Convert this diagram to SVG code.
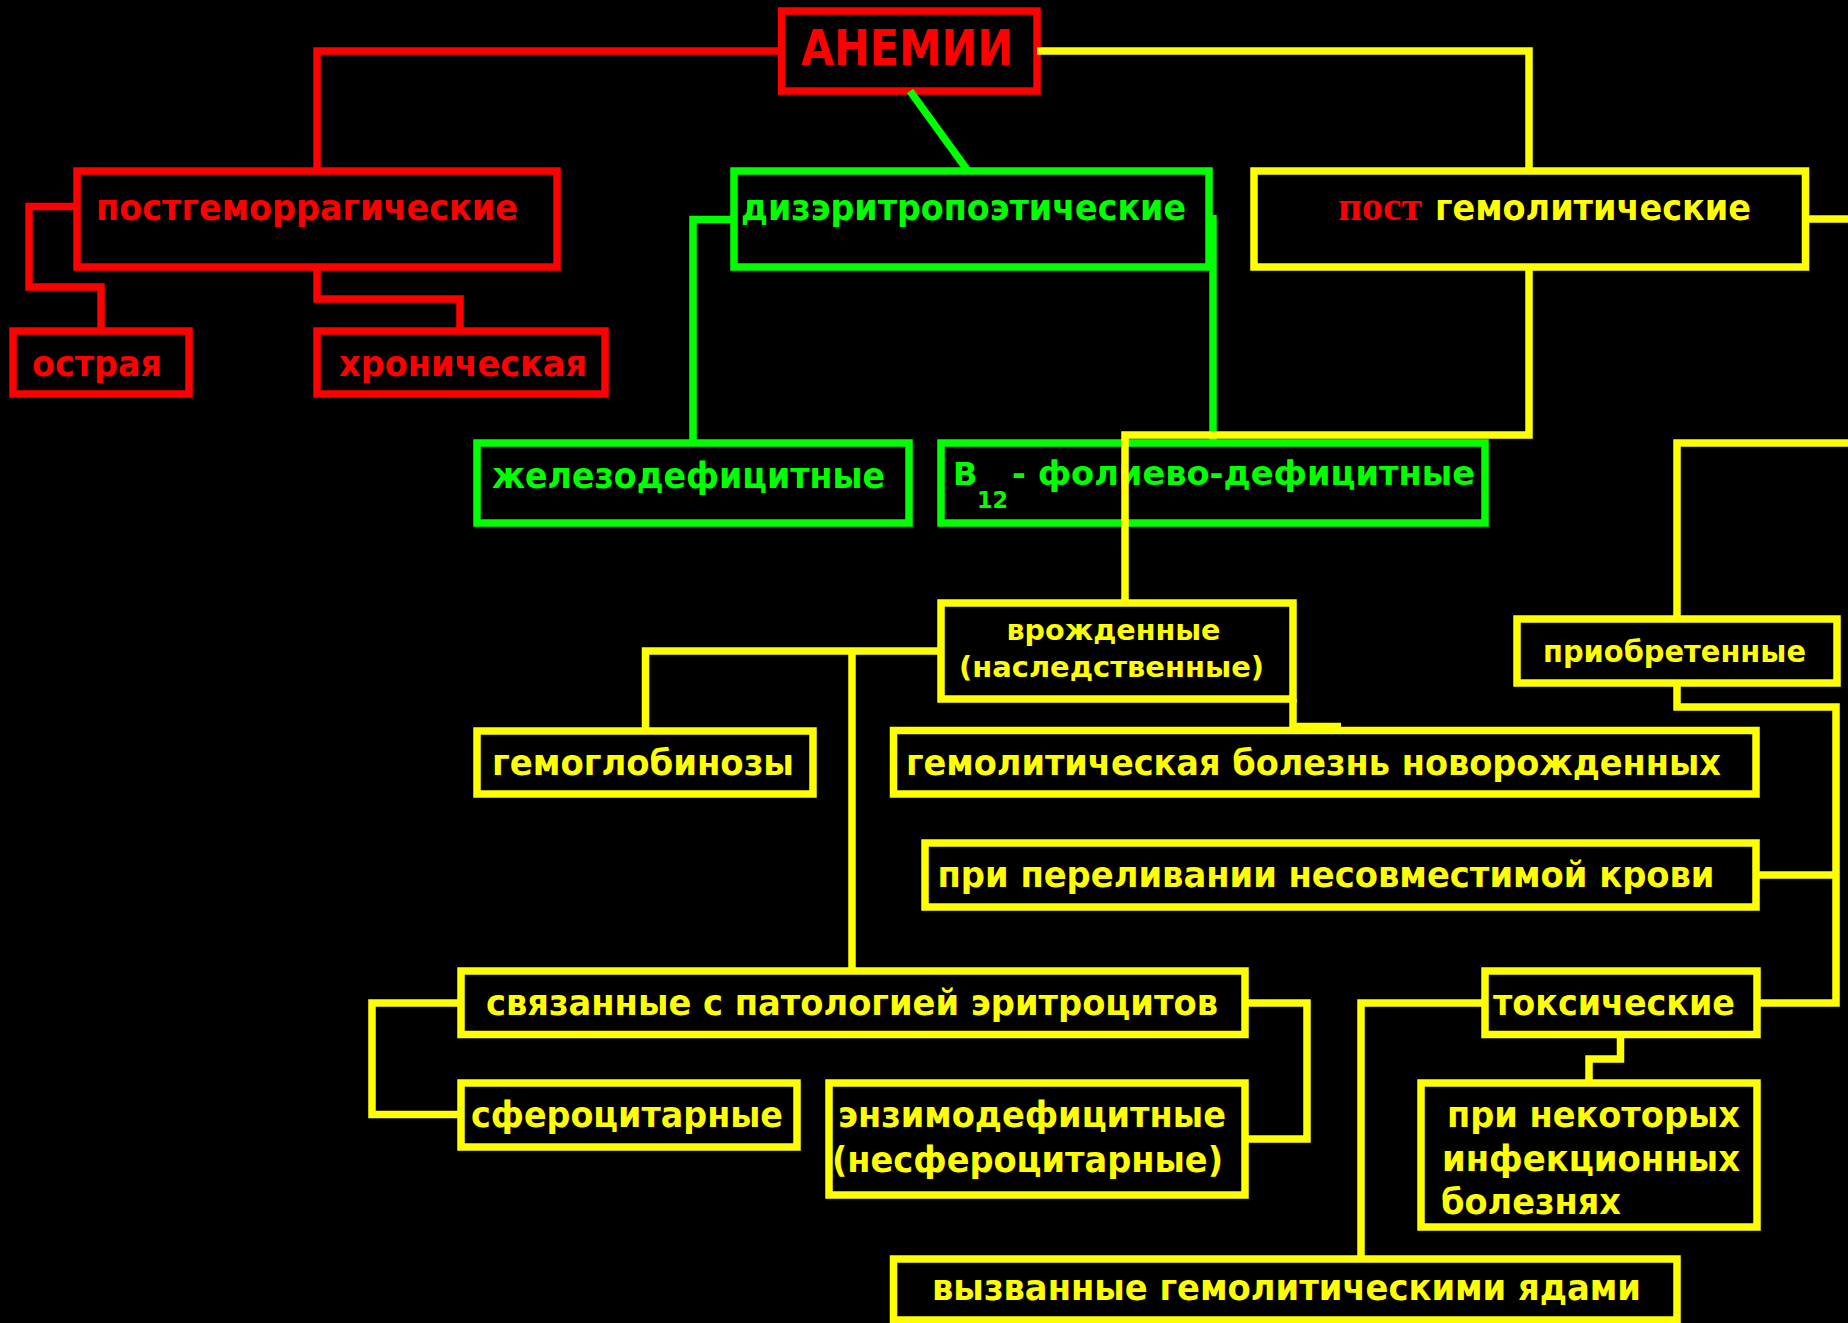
<svg xmlns="http://www.w3.org/2000/svg" width="1848" height="1323" viewBox="0 0 1848 1323">
<style>
.box{fill:none;stroke-width:7.5}
.r{stroke:#FF0000}
.g{stroke:#00FF00}
.y{stroke:#FFFF00}
.c{fill:none;stroke-width:7.5;stroke-linejoin:miter;stroke-linecap:butt}
.t{font-family:"DejaVu Sans","Liberation Sans",sans-serif;font-weight:bold}
.tr{fill:#FF0000}
.tg{fill:#00FF00}
.ty{fill:#FFFF00}
</style>
<rect width="1848" height="1323" fill="#000"/>

<g id="anemii">
<rect class="box r" x="781.5" y="11" width="255.5" height="80"/>
<text class="t tr" x="801" y="65" font-size="49" textLength="212" lengthAdjust="spacingAndGlyphs">АНЕМИИ</text>
</g>
<g id="posthemorrhagic">
<rect class="box r" x="77" y="171" width="480" height="96"/>
<text class="t tr" x="96" y="220" font-size="36" textLength="422" lengthAdjust="spacingAndGlyphs">постгеморрагические</text>
</g>
<g id="acute">
<rect class="box r" x="13" y="331" width="176" height="63"/>
<text class="t tr" x="32" y="376" font-size="36" textLength="130" lengthAdjust="spacingAndGlyphs">острая</text>
</g>
<g id="chronic">
<rect class="box r" x="317" y="331" width="288" height="63"/>
<text class="t tr" x="339" y="376" font-size="36" textLength="248" lengthAdjust="spacingAndGlyphs">хроническая</text>
</g>
<g id="dyserythropoietic">
<rect class="box g" x="734" y="171" width="475" height="96"/>
<text class="t tg" x="741" y="220" font-size="36" textLength="445" lengthAdjust="spacingAndGlyphs">дизэритропоэтические</text>
</g>
<g id="posthemolytic">
<rect class="box y" x="1254" y="171" width="551.5" height="96"/>
<text x="1338" y="220" font-family="Liberation Serif, serif" font-weight="bold" font-size="42" fill="#FF0000" textLength="84" lengthAdjust="spacingAndGlyphs">пост</text>
<text class="t ty" x="1435" y="220" font-size="36" textLength="316" lengthAdjust="spacingAndGlyphs">гемолитические</text>
</g>
<g id="iron">
<rect class="box g" x="477" y="443" width="432" height="80"/>
<text class="t tg" x="492" y="488" font-size="36" textLength="393" lengthAdjust="spacingAndGlyphs">железодефицитные</text>
</g>
<g id="b12">
<rect class="box g" x="941" y="443" width="544" height="80"/>
<text class="t tg" x="953" y="485" font-size="32">B</text>
<text class="t tg" x="977" y="508" font-size="23" textLength="31" lengthAdjust="spacingAndGlyphs">12</text>
<text class="t tg" x="1012" y="485" font-size="33" textLength="463" lengthAdjust="spacingAndGlyphs">- фолиево-дефицитные</text>
</g>
<g id="congenital">
<rect class="box y" x="941" y="603" width="352" height="96"/>
<text class="t ty" x="1006.5" y="640" font-size="29" textLength="214" lengthAdjust="spacingAndGlyphs">врожденные</text>
<text class="t ty" x="959" y="677" font-size="29" textLength="305" lengthAdjust="spacingAndGlyphs">(наследственные)</text>
</g>
<g id="acquired">
<rect class="box y" x="1517" y="619" width="320" height="64"/>
<text class="t ty" x="1543" y="662" font-size="30" textLength="263" lengthAdjust="spacingAndGlyphs">приобретенные</text>
</g>
<g id="hemoglobinoses">
<rect class="box y" x="477" y="731" width="336" height="63"/>
<text class="t ty" x="492" y="775" font-size="35" textLength="302" lengthAdjust="spacingAndGlyphs">гемоглобинозы</text>
</g>
<g id="newborn">
<rect class="box y" x="893.5" y="730.5" width="862.5" height="63.5"/>
<text class="t ty" x="906" y="775" font-size="35" textLength="815" lengthAdjust="spacingAndGlyphs">гемолитическая болезнь новорожденных</text>
</g>
<g id="transfusion">
<rect class="box y" x="925" y="843" width="831" height="64"/>
<text class="t ty" x="937.5" y="887" font-size="35" textLength="777" lengthAdjust="spacingAndGlyphs">при переливании несовместимой крови</text>
</g>
<g id="erythrocyte">
<rect class="box y" x="461" y="971" width="784" height="63.5"/>
<text class="t ty" x="486" y="1015" font-size="35" textLength="732" lengthAdjust="spacingAndGlyphs">связанные с патологией эритроцитов</text>
</g>
<g id="toxic">
<rect class="box y" x="1485" y="971" width="272" height="63.5"/>
<text class="t ty" x="1493" y="1015" font-size="35" textLength="242" lengthAdjust="spacingAndGlyphs">токсические</text>
</g>
<g id="spherocytic">
<rect class="box y" x="461" y="1083" width="336" height="64"/>
<text class="t ty" x="471" y="1127" font-size="35" textLength="312" lengthAdjust="spacingAndGlyphs">сфероцитарные</text>
</g>
<g id="enzyme">
<rect class="box y" x="829" y="1083" width="416" height="112"/>
<text class="t ty" x="838" y="1127" font-size="35" textLength="388" lengthAdjust="spacingAndGlyphs">энзимодефицитные</text>
<text class="t ty" x="832" y="1172" font-size="35" textLength="391" lengthAdjust="spacingAndGlyphs">(несфероцитарные)</text>
</g>
<g id="infectious">
<rect class="box y" x="1421" y="1083" width="336" height="144"/>
<text class="t ty" x="1447" y="1127" font-size="35" textLength="293" lengthAdjust="spacingAndGlyphs">при некоторых</text>
<text class="t ty" x="1442" y="1171" font-size="35" textLength="298" lengthAdjust="spacingAndGlyphs">инфекционных</text>
<text class="t ty" x="1441" y="1214" font-size="35" textLength="180" lengthAdjust="spacingAndGlyphs">болезнях</text>
</g>
<g id="poisons">
<rect class="box y" x="893.5" y="1259" width="783.5" height="61"/>
<text class="t ty" x="932" y="1300" font-size="35" textLength="709" lengthAdjust="spacingAndGlyphs">вызванные гемолитическими ядами</text>
</g>

<g id="connectors">
<path class="c r" d="M781.5,51 H317 V171"/>
<path class="c r" d="M77,206.5 H29 V287 H101 V331"/>
<path class="c r" d="M317,267 V299 H460 V331"/>
<path class="c g" d="M910,91 L968,171"/>
<path class="c g" d="M734,219.5 H693 V443"/>
<path class="c g" d="M1213,215 V443"/>
<path class="c y" d="M1037,51 H1529 V171"/>
<path class="c y" d="M1805.5,219 H1848"/>
<path class="c y" d="M1529,267 V435 H1125 V603"/>
<path class="c y" d="M1848,443 H1677 V619"/>
<path class="c y" d="M941,651 H645.5 V731"/>
<path class="c y" d="M852,651 V971"/>
<path class="c y" d="M1293,699 V726.5 H1341"/>
<path class="c y" d="M1677,683 V707 H1836 V1003 H1757"/>
<path class="c y" d="M1756,875 H1836"/>
<path class="c y" d="M461,1003 H372 V1114.5 H461"/>
<path class="c y" d="M1245,1003 H1307 V1139 H1245"/>
<path class="c y" d="M1485,1003 H1361 V1259"/>
<path class="c y" d="M1620.5,1034.5 V1059 H1589 V1083"/>
</g>
</svg>
